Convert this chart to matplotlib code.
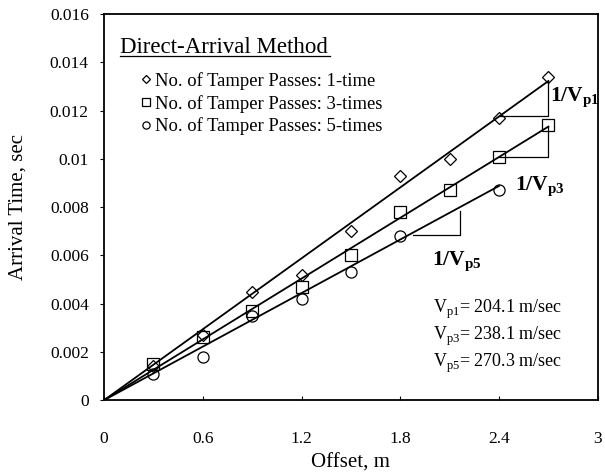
import matplotlib.pyplot as plt
import numpy as np

plt.rcParams['font.family'] = ['Liberation Serif', 'DejaVu Serif']
plt.rcParams['mathtext.fontset'] = 'custom'
plt.rcParams['mathtext.rm'] = 'Liberation Serif'
plt.rcParams['mathtext.bf'] = 'Liberation Serif:bold'

# arrival times per offset for each number of tamper passes
x1 = [0.3, 0.6, 0.9, 1.2, 1.5, 1.8, 2.1, 2.4, 2.7]
t1 = [0.0014, 0.0027, 0.0045, 0.0052, 0.0070, 0.0093, 0.0100, 0.0117, 0.0134]
x3 = [0.3, 0.6, 0.9, 1.2, 1.5, 1.8, 2.1, 2.4, 2.7]
t3 = [0.0015, 0.0026, 0.0037, 0.0047, 0.0060, 0.0078, 0.0087, 0.0101, 0.0114]
x5 = [0.3, 0.6, 0.9, 1.2, 1.5, 1.8, 2.4]
t5 = [0.0011, 0.0018, 0.0035, 0.0042, 0.0053, 0.0068, 0.0087]

vp1, vp3, vp5 = 204.1, 238.1, 270.3

fig = plt.figure(figsize=(6.05, 4.73), dpi=100)
ax = fig.add_axes([0.172, 0.154, 0.816, 0.816])

ax.plot(x1, t1, 'D', ms=6.5, mfc='white', mec='black', mew=0.9, label='No. of Tamper Passes: 1-time')
ax.plot(x3, t3, 's', ms=8, mfc='none', mec='black', mew=0.9, label='No. of Tamper Passes: 3-times')
ax.plot(x5, t5, 'o', ms=8, mfc='none', mec='black', mew=0.9, label='No. of Tamper Passes: 5-times')

# fitted lines through origin
ax.plot([0, 2.7], [0, 2.7 / vp1], color='black', lw=1.3)
ax.plot([0, 2.7], [0, 2.7 / vp3], color='black', lw=1.3)
ax.plot([0, 2.4], [0, 2.4 / vp5], color='black', lw=1.3)

# slope triangles
ax.plot([2.4, 2.7, 2.7], [2.4 / vp1, 2.4 / vp1, 2.7 / vp1], color='black', lw=0.9)
ax.plot([2.4, 2.7, 2.7], [2.4 / vp3, 2.4 / vp3, 2.7 / vp3], color='black', lw=0.9)
ax.plot([1.88, 2.16, 2.16], [1.85 / vp5, 1.85 / vp5, 2.12 / vp5], color='black', lw=0.9)

ax.text(2.71, 0.0124, r'$\mathbf{1/V_{p1}}$', fontsize=15.5)
ax.text(2.5, 0.0087, r'$\mathbf{1/V_{p3}}$', fontsize=15.5)
ax.text(1.99, 0.0056, r'$\mathbf{1/V_{p5}}$', fontsize=15.5)

ax.text(2.0, 0.00377, r'V$_{\mathrm{p1}}$= 204.1 m/sec', fontsize=13, va='center')
ax.text(2.0, 0.00265, r'V$_{\mathrm{p3}}$= 238.1 m/sec', fontsize=13, va='center')
ax.text(2.0, 0.00153, r'V$_{\mathrm{p5}}$= 270.3 m/sec', fontsize=13, va='center')

ax.text(0.095, 0.01463, 'Direct-Arrival Method', fontsize=16.5, va='center')
ax.plot([0.095, 1.37], [0.01426, 0.01426], color='black', lw=0.9)
ax.legend(loc='upper left', bbox_to_anchor=(0.0757, 0.85), borderaxespad=0, frameon=False,
          fontsize=13.4, markerscale=0.65, handlelength=0.5, handletextpad=0.25,
          labelspacing=0.26, borderpad=0)

ax.set_xlim(0, 3)
ax.set_ylim(0, 0.016)
ax.set_xticks([0, 0.6, 1.2, 1.8, 2.4, 3])
ax.set_xticklabels(['0', '0.6', '1.2', '1.8', '2.4', '3'])
ax.set_yticks(np.arange(0, 0.0161, 0.002))
ax.set_yticklabels(['0', '0.002', '0.004', '0.006', '0.008', '0.01', '0.012', '0.014', '0.016'])
ax.tick_params(axis='x', direction='in', length=3, labelsize=12.5, pad=22)
ax.tick_params(axis='y', direction='out', length=3, labelsize=12.5, pad=8)
ax.set_xlabel('Offset, m', fontsize=15, labelpad=5)
ax.set_ylabel('Arrival Time, sec', fontsize=15, labelpad=16)
for s in ax.spines.values():
    s.set_linewidth(1.3)

fig.savefig('out.png', dpi=100)
